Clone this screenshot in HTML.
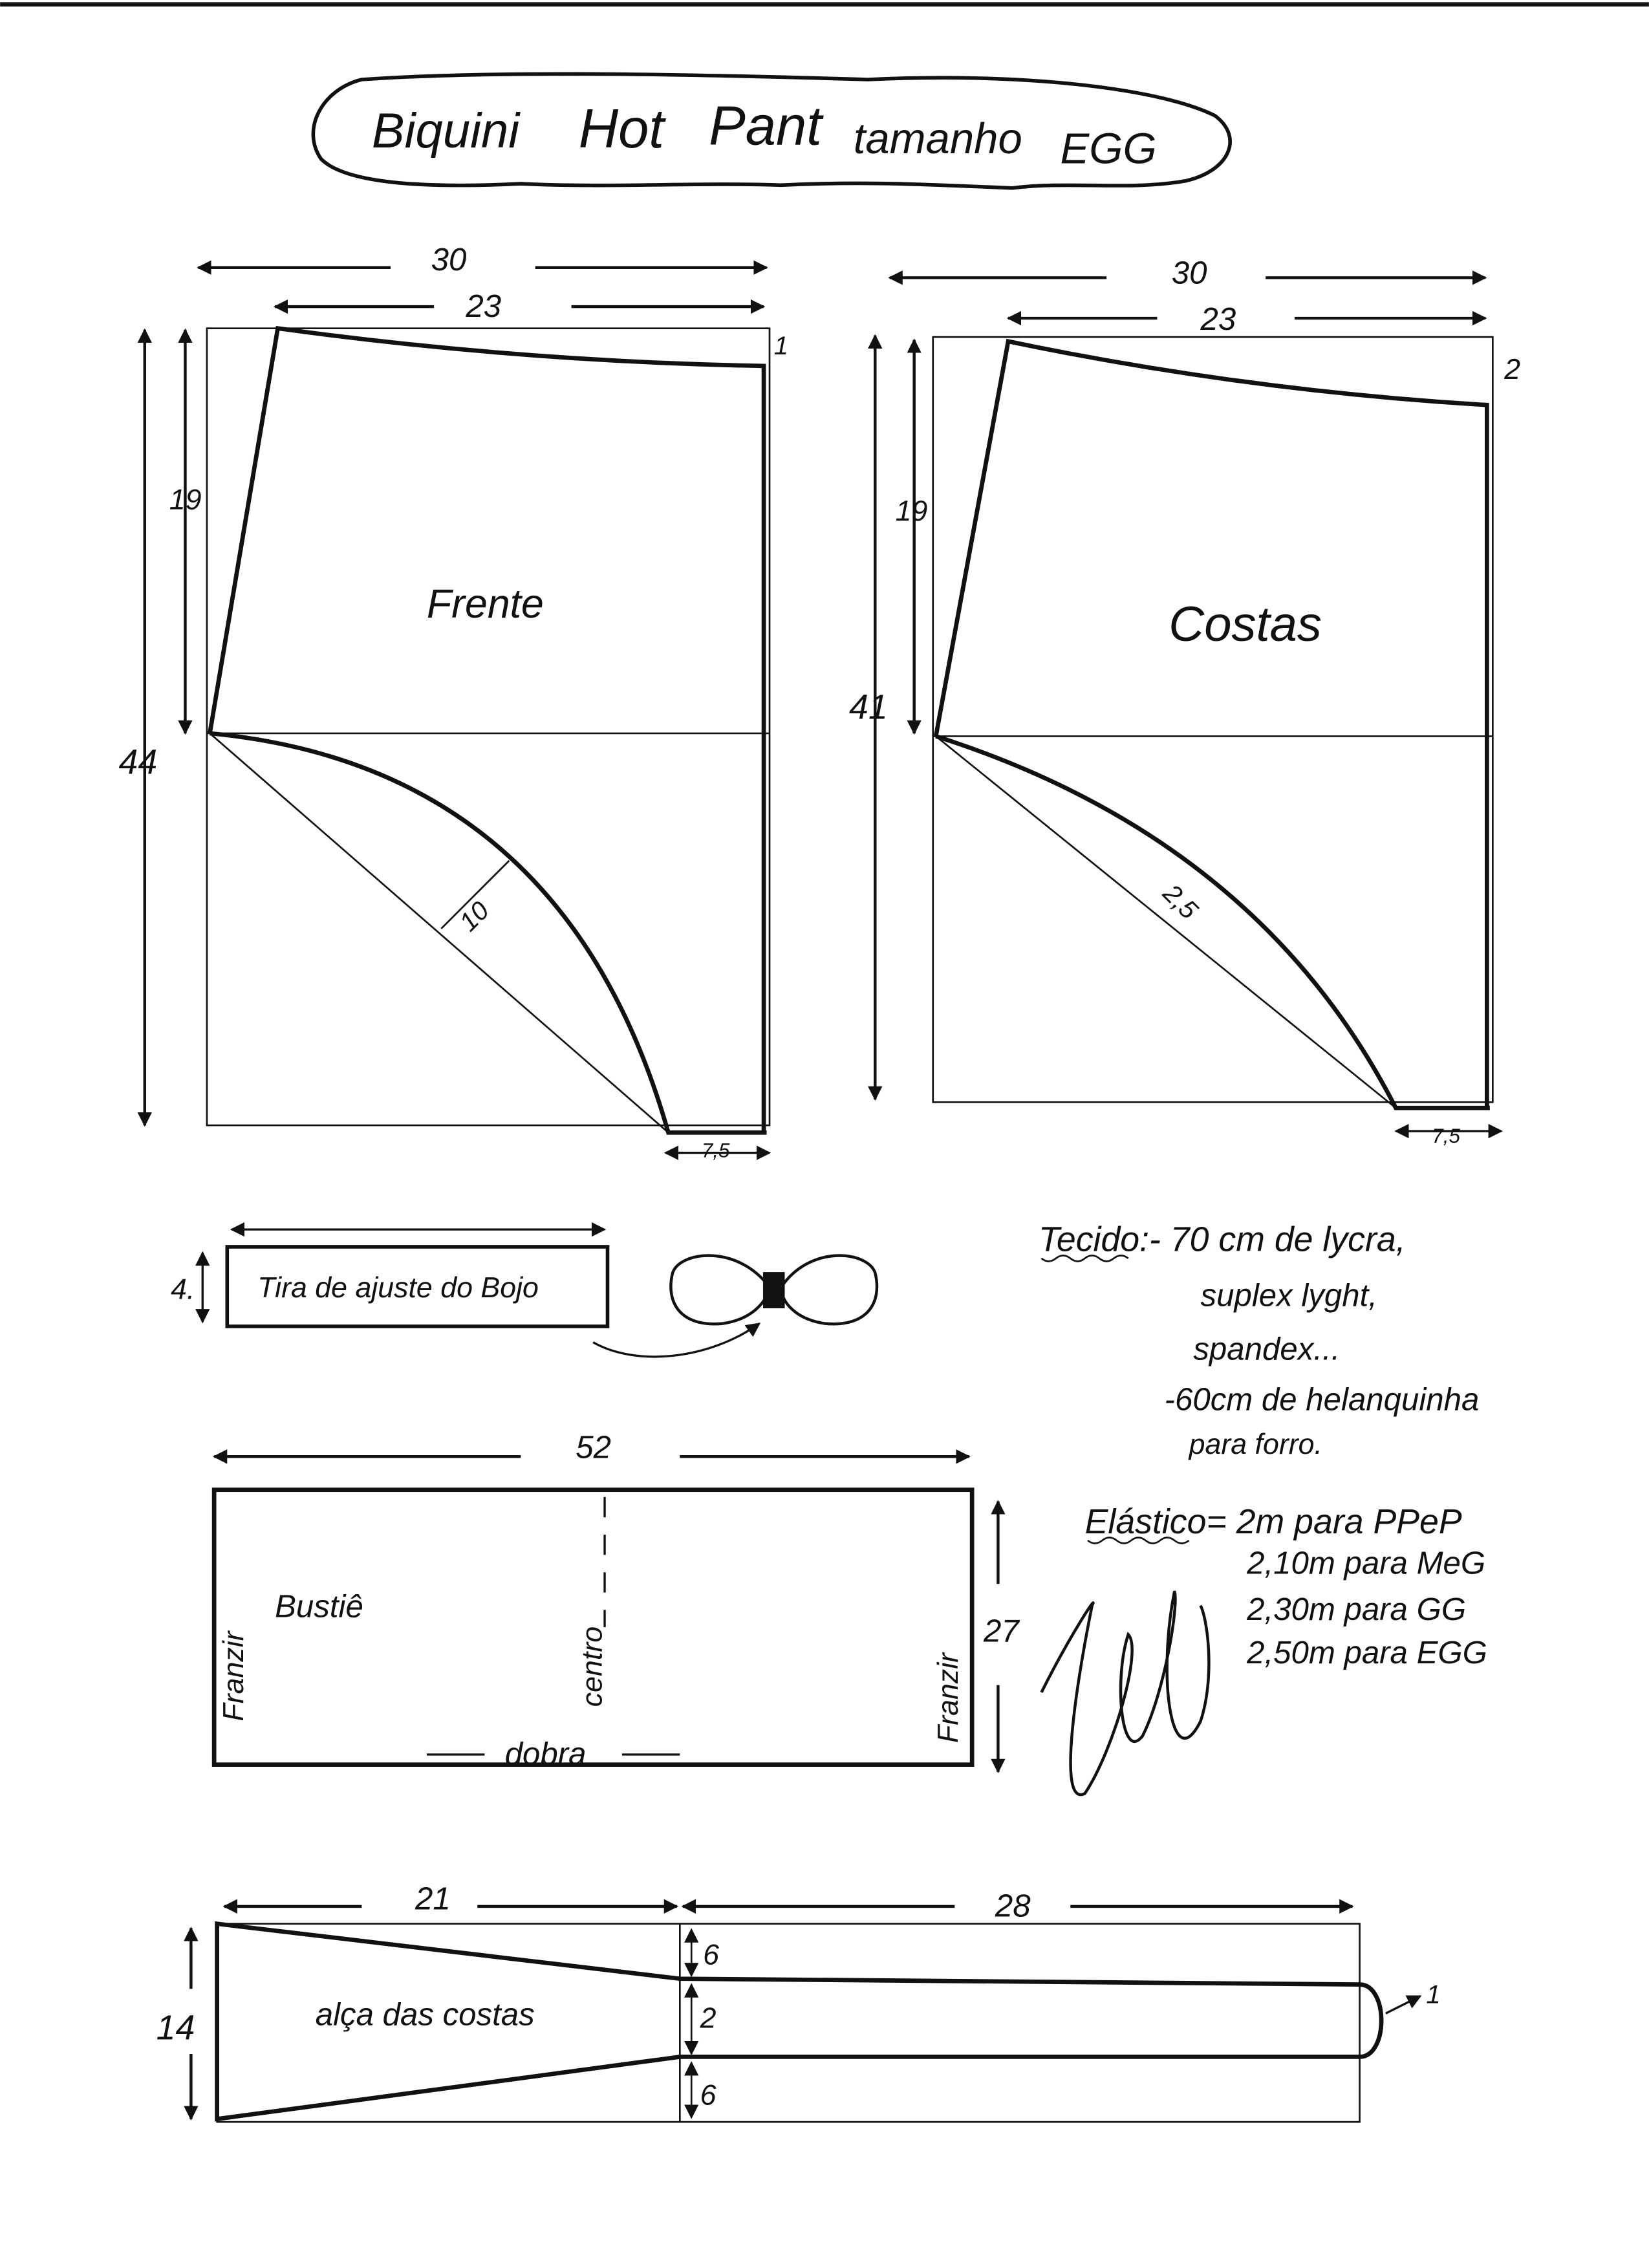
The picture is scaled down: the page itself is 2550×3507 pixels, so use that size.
<!DOCTYPE html>
<html><head><meta charset="utf-8"><style>
html,body{margin:0;padding:0;background:#fff}
svg{display:block}
text{font-family:"Liberation Sans",sans-serif;fill:#111}
</style></head><body>
<svg width="2550" height="3507" viewBox="0 0 1140 1568" xmlns="http://www.w3.org/2000/svg">
<defs>
<marker id="a" markerWidth="10" markerHeight="10" refX="9" refY="5" orient="auto-start-reverse" markerUnits="userSpaceOnUse"><path d="M0,0 L10,5 L0,10 z" fill="#111"/></marker>
</defs>
<rect width="1140" height="1568" fill="#fff"/>
<line x1="0" y1="3" x2="1140" y2="3" stroke="#111" stroke-width="3"/>
<g fill="none" stroke="#111">
<path d="M250,55 C350,48 500,52 600,55 C700,50 800,60 840,80 C860,95 850,118 820,125 C780,132 740,125 700,130 C650,128 600,125 540,128 C480,126 420,130 360,127 C300,130 240,128 222,110 C208,90 222,62 250,55 Z" stroke-width="2.5"/>
<rect x="143" y="227" width="389" height="551" stroke-width="1.2"/>
<line x1="143" y1="507" x2="532" y2="507" stroke-width="1.2"/>
<path d="M145,507 L192,227 Q360,250 528,253 L528,783" stroke-width="3"/>
<path d="M145,507 Q390,530 462,783 L530,783" stroke-width="3"/>
<line x1="145" y1="507" x2="462" y2="783" stroke-width="1.2"/>
<line x1="305" y1="642" x2="352" y2="595" stroke-width="1.2"/>
<line x1="137" y1="185" x2="270" y2="185" stroke-width="2" marker-start="url(#a)"/>
<line x1="370" y1="185" x2="530" y2="185" stroke-width="2" marker-end="url(#a)"/>
<line x1="190" y1="212" x2="300" y2="212" stroke-width="2" marker-start="url(#a)"/>
<line x1="395" y1="212" x2="528" y2="212" stroke-width="2" marker-end="url(#a)"/>
<line x1="100" y1="228" x2="100" y2="778" stroke-width="2" marker-start="url(#a)" marker-end="url(#a)"/>
<line x1="128" y1="228" x2="128" y2="507" stroke-width="2" marker-start="url(#a)" marker-end="url(#a)"/>
<line x1="460" y1="797" x2="532" y2="797" stroke-width="1.5" marker-start="url(#a)" marker-end="url(#a)"/>
<rect x="645" y="233" width="387" height="529" stroke-width="1.2"/>
<line x1="645" y1="509" x2="1032" y2="509" stroke-width="1.2"/>
<path d="M647,509 L697,236 Q860,270 1028,280 L1028,765" stroke-width="3"/>
<path d="M647,509 Q870,580 965,766 L1030,766" stroke-width="3"/>
<line x1="647" y1="509" x2="965" y2="766" stroke-width="1.2"/>
<line x1="615" y1="192" x2="765" y2="192" stroke-width="2" marker-start="url(#a)"/>
<line x1="875" y1="192" x2="1027" y2="192" stroke-width="2" marker-end="url(#a)"/>
<line x1="697" y1="220" x2="800" y2="220" stroke-width="2" marker-start="url(#a)"/>
<line x1="895" y1="220" x2="1027" y2="220" stroke-width="2" marker-end="url(#a)"/>
<line x1="605" y1="232" x2="605" y2="760" stroke-width="2" marker-start="url(#a)" marker-end="url(#a)"/>
<line x1="632" y1="235" x2="632" y2="507" stroke-width="2" marker-start="url(#a)" marker-end="url(#a)"/>
<line x1="965" y1="782" x2="1038" y2="782" stroke-width="1.5" marker-start="url(#a)" marker-end="url(#a)"/>
<rect x="157" y="862" width="263" height="55" stroke-width="2.5"/>
<line x1="160" y1="850" x2="418" y2="850" stroke-width="1.5" marker-start="url(#a)" marker-end="url(#a)"/>
<line x1="140" y1="866" x2="140" y2="914" stroke-width="1.5" marker-start="url(#a)" marker-end="url(#a)"/>
<path d="M532,890 C510,860 470,865 465,880 C460,900 470,918 500,915 C520,912 530,900 532,890 Z" stroke-width="2"/>
<path d="M540,890 C560,860 600,865 605,880 C610,900 600,918 570,915 C550,912 540,900 540,890 Z" stroke-width="2"/>
<rect x="528" y="880" width="14" height="24" fill="#111"/>
<path d="M410,928 C440,945 490,940 525,915" stroke-width="1.5" marker-end="url(#a)"/>
<rect x="148" y="1030" width="524" height="190" stroke-width="3"/>
<line x1="418" y1="1035" x2="418" y2="1125" stroke-width="1.5" stroke-dasharray="14,12"/>
<line x1="148" y1="1007" x2="360" y2="1007" stroke-width="2" marker-start="url(#a)"/>
<line x1="470" y1="1007" x2="670" y2="1007" stroke-width="2" marker-end="url(#a)"/>
<line x1="690" y1="1038" x2="690" y2="1095" stroke-width="2" marker-start="url(#a)"/>
<line x1="690" y1="1165" x2="690" y2="1225" stroke-width="2" marker-end="url(#a)"/>
<line x1="295" y1="1213" x2="335" y2="1213" stroke-width="1.5"/>
<line x1="430" y1="1213" x2="470" y2="1213" stroke-width="1.5"/>
<rect x="150" y="1330" width="790" height="137" stroke-width="1.2"/>
<line x1="470" y1="1330" x2="470" y2="1467" stroke-width="1.2"/>
<path d="M150,1330 L470,1368 L940,1372 C960,1372 960,1422 940,1422 L470,1422 L150,1465 Z" stroke-width="3"/>
<line x1="155" y1="1318" x2="250" y2="1318" stroke-width="2" marker-start="url(#a)"/>
<line x1="330" y1="1318" x2="468" y2="1318" stroke-width="2" marker-end="url(#a)"/>
<line x1="472" y1="1318" x2="660" y2="1318" stroke-width="2" marker-start="url(#a)"/>
<line x1="740" y1="1318" x2="935" y2="1318" stroke-width="2" marker-end="url(#a)"/>
<line x1="132" y1="1333" x2="132" y2="1375" stroke-width="2" marker-start="url(#a)"/>
<line x1="132" y1="1420" x2="132" y2="1465" stroke-width="2" marker-end="url(#a)"/>
<line x1="478" y1="1334" x2="478" y2="1366" stroke-width="1.2" marker-start="url(#a)" marker-end="url(#a)"/>
<line x1="478" y1="1372" x2="478" y2="1420" stroke-width="1.2" marker-start="url(#a)" marker-end="url(#a)"/>
<line x1="478" y1="1426" x2="478" y2="1464" stroke-width="1.2" marker-start="url(#a)" marker-end="url(#a)"/>
<path d="M958,1392 L982,1380" stroke-width="1.5" marker-end="url(#a)"/>
<path d="M720,870 q5,4 10,0 q5,-4 10,0 q5,4 10,0 q5,-4 10,0 q5,4 10,0 q5,-4 10,0" stroke-width="1.2"/>
<path d="M752,1065 q5,4 10,0 q5,-4 10,0 q5,4 10,0 q5,-4 10,0 q5,4 10,0 q5,-4 10,0 q5,4 10,0" stroke-width="1.2"/>
<path d="M720,1170 C740,1130 760,1100 755,1110 C745,1160 730,1250 750,1240 C770,1210 790,1140 780,1130 C770,1160 775,1220 790,1200 C805,1170 815,1110 812,1100 C800,1160 810,1230 830,1190 C840,1160 835,1120 830,1110" stroke-width="2"/>
</g>
<g font-style="italic">
<text x="257" y="102" font-size="34">Biquini</text>
<text x="400" y="102" font-size="38">Hot</text>
<text x="490" y="100" font-size="38">Pant</text>
<text x="590" y="106" font-size="30">tamanho</text>
<text x="733" y="113" font-size="30">EGG</text>
<text x="298" y="187" font-size="22">30</text>
<text x="322" y="219" font-size="22">23</text>
<text x="535" y="245" font-size="18">1</text>
<text x="117" y="352" font-size="20">19</text>
<text x="82" y="535" font-size="24">44</text>
<text x="295" y="427" font-size="28">Frente</text>
<text x="318" y="642" font-size="18" transform="rotate(-45 325 635)">10</text>
<text x="485" y="800" font-size="14">7,5</text>
<text x="810" y="196" font-size="22">30</text>
<text x="830" y="228" font-size="22">23</text>
<text x="1040" y="262" font-size="20">2</text>
<text x="619" y="360" font-size="20">19</text>
<text x="587" y="497" font-size="24">41</text>
<text x="808" y="443" font-size="34">Costas</text>
<text x="800" y="630" font-size="18" transform="rotate(45 815 628)">2,5</text>
<text x="990" y="790" font-size="14">7,5</text>
<text x="178" y="897" font-size="20">Tira de ajuste do Bojo</text>
<text x="118" y="898" font-size="20">4.</text>
<text x="718" y="865" font-size="24">Tecido:- 70 cm  de lycra,</text>
<text x="830" y="903" font-size="22">suplex lyght,</text>
<text x="825" y="940" font-size="22">spandex...</text>
<text x="805" y="975" font-size="22">-60cm de helanquinha</text>
<text x="822" y="1005" font-size="20">para forro.</text>
<text x="750" y="1060" font-size="24">Elástico= 2m para PPeP</text>
<text x="862" y="1088" font-size="22">2,10m para MeG</text>
<text x="862" y="1120" font-size="22">2,30m para GG</text>
<text x="862" y="1150" font-size="22">2,50m para EGG</text>
<text x="398" y="1008" font-size="22">52</text>
<text x="680" y="1135" font-size="22">27</text>
<text x="190" y="1118" font-size="22">Bustiê</text>
<text x="349" y="1220" font-size="22">dobra</text>
<text x="0" y="0" font-size="20" transform="translate(168,1190) rotate(-90)">Franzir</text>
<text x="0" y="0" font-size="20" transform="translate(662,1205) rotate(-90)">Franzir</text>
<text x="0" y="0" font-size="20" transform="translate(416,1180) rotate(-90)">centro</text>
<text x="287" y="1320" font-size="22">21</text>
<text x="688" y="1325" font-size="22">28</text>
<text x="108" y="1410" font-size="24">14</text>
<text x="218" y="1400" font-size="22">alça das costas</text>
<text x="486" y="1358" font-size="20">6</text>
<text x="484" y="1402" font-size="20">2</text>
<text x="484" y="1455" font-size="20">6</text>
<text x="986" y="1385" font-size="18">1</text>
</g>
</svg>
</body></html>
